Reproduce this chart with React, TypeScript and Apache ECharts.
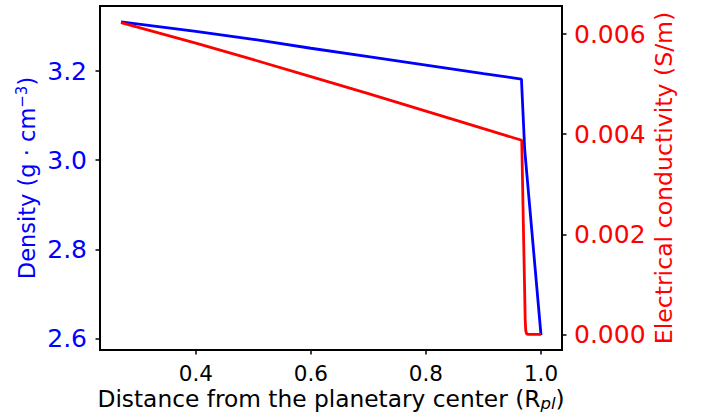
import React, { useEffect, useRef } from "react";
import * as echarts from "echarts";

// Density profile (blue, left axis)
const densityX = [0.27, 0.4, 0.5, 0.6, 0.7, 0.8, 0.9, 0.966, 0.9717, 1.0];
const densityY = [3.31, 3.289, 3.271, 3.251, 3.232, 3.213, 3.194, 3.182, 3.023, 2.608];

// Electrical conductivity profile (red, right axis)
const condX = [0.27, 0.4, 0.5, 0.6, 0.7, 0.8, 0.9, 0.9665, 0.968, 0.97, 0.9717, 0.9725, 0.9735, 0.975, 0.978, 1.0];
const condY = [0.00623, 0.00582, 0.00549, 0.00515, 0.00481, 0.00446, 0.00411, 0.00388, 0.003, 0.0018, 0.0008, 0.0003, 0.00008, 0.00001, 0, 0];

const xTicks = [0.4, 0.6, 0.8, 1.0];
const densityTicks = [2.6, 2.8, 3.0, 3.2];
const condTicks = [0, 0.002, 0.004, 0.006];

const FONT = "DejaVu Sans";

export default function App() {
  const ref = useRef<HTMLDivElement>(null);
  useEffect(() => {
    document.body.style.margin = "0";
    if (!ref.current) return;
    const chart = echarts.init(ref.current, null, { renderer: "svg" });
    const blueData = densityX.map((x, i) => [x, densityY[i]]);
    const redData = condX.map((x, i) => [x, condY[i]]);
    chart.setOption({
      animation: false,
      backgroundColor: "#ffffff",
      textStyle: { fontFamily: FONT },
      grid: {
        left: 100,
        right: 140,
        top: 6,
        bottom: 67,
        show: true,
        borderColor: "#000000",
        borderWidth: 2,
        backgroundColor: "transparent",
      },
      xAxis: {
        type: "value",
        min: 0.2335,
        max: 1.0365,
        splitLine: { show: false },
        axisLine: { show: true, onZero: false, lineStyle: { color: "#000", width: 2 } },
        axisTick: { show: true, customValues: xTicks, length: 4.5, lineStyle: { color: "#000", width: 1.5 } },
        axisLabel: {
          customValues: xTicks,
          formatter: (v: number) => v.toFixed(1),
          color: "#000",
          fontSize: 21.5,
          fontFamily: FONT,
          margin: 12,
        },
        name: "Distance from the planetary center (R{sub|pl})",
        nameLocation: "middle",
        nameMoveOverlap: false,
        nameGap: 35,
        nameTextStyle: {
          color: "#000",
          fontSize: 23.3,
          fontFamily: FONT,
          lineHeight: 27,
          rich: {
            sub: { fontSize: 16.5, fontStyle: "italic", fontFamily: FONT, color: "#000", verticalAlign: "bottom", lineHeight: 17 },
          },
        },
      },
      yAxis: [
        {
          type: "value",
          position: "left",
          min: 2.5747,
          max: 3.3457,
          splitLine: { show: false },
          axisLine: { show: true, lineStyle: { color: "#000", width: 2 } },
          axisTick: { show: true, customValues: densityTicks, length: 4.5, lineStyle: { color: "#000", width: 1.5 } },
          axisLabel: {
            customValues: densityTicks,
            formatter: (v: number) => v.toFixed(1),
            color: "#0000ff",
            fontSize: 25,
            fontFamily: FONT,
            margin: 13,
          },
          name: "Density (g · cm{sup|−3})",
          nameLocation: "middle",
          nameRotate: 90,
          nameMoveOverlap: false,
          nameGap: 60,
          nameTextStyle: {
            color: "#0000ff",
            fontSize: 22.5,
            fontFamily: FONT,
            lineHeight: 26,
            rich: {
              sup: { fontSize: 15, fontFamily: FONT, color: "#0000ff", verticalAlign: "top", lineHeight: 15 },
            },
          },
        },
        {
          type: "value",
          position: "right",
          min: -0.0003125,
          max: 0.0065625,
          splitLine: { show: false },
          axisLine: { show: true, lineStyle: { color: "#000", width: 2 } },
          axisTick: { show: true, customValues: condTicks, length: 4.5, lineStyle: { color: "#000", width: 1.5 } },
          axisLabel: {
            customValues: condTicks,
            formatter: (v: number) => v.toFixed(3),
            color: "#ff0000",
            fontSize: 25,
            fontFamily: FONT,
            margin: 12,
          },
          name: "Electrical conductivity (S/m)",
          nameLocation: "middle",
          nameRotate: 90,
          nameMoveOverlap: false,
          nameGap: 90,
          nameTextStyle: { color: "#ff0000", fontSize: 23.6, fontFamily: FONT },
        },
      ],
      series: [
        {
          type: "line",
          name: "Density",
          yAxisIndex: 0,
          data: blueData,
          showSymbol: false,
          lineStyle: { color: "#0000ff", width: 2.8 },
          itemStyle: { color: "#0000ff" },
        },
        {
          type: "line",
          name: "Conductivity",
          yAxisIndex: 1,
          data: redData,
          showSymbol: false,
          lineStyle: { color: "#ff0000", width: 2.8 },
          itemStyle: { color: "#ff0000" },
        },
      ],
    });
    return () => chart.dispose();
  }, []);
  return <div ref={ref} style={{ width: 702, height: 417 }} />;
}
